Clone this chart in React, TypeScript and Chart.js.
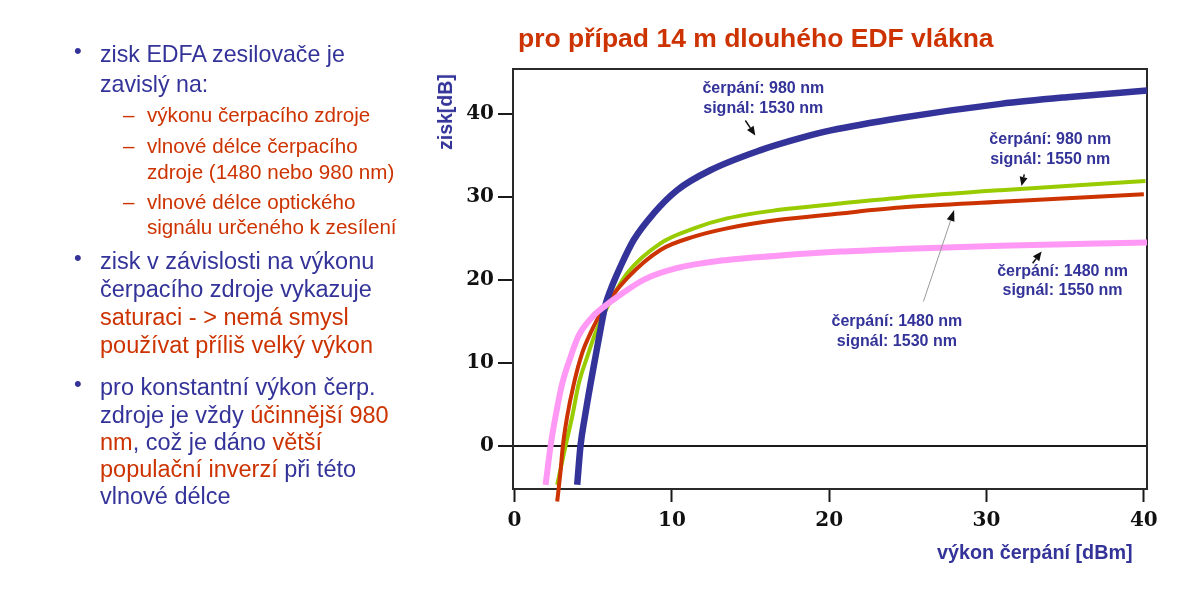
import React, { useEffect, useRef } from "react";
import { Chart, registerables } from "chart.js";

Chart.register(...registerables);

// ---- data ----
const seriesNames = [
  "čerpání 1480 nm, signál 1550 nm",
  "čerpání 980 nm, signál 1530 nm",
  "čerpání 1480 nm, signál 1530 nm",
  "čerpání 980 nm, signál 1550 nm",
];

const p1480s1550X = [1.97, 2.29, 2.6, 3.03, 3.56, 4.08, 4.93, 5.78, 6.5, 8.2, 10.3, 13.5, 16.7, 20.7, 24.5, 30.9, 40.2];
const p1480s1550Y = [-4.7, 0, 3.5, 7.5, 10.7, 13.3, 15.5, 16.9, 17.9, 20.0, 21.4, 22.4, 22.9, 23.4, 23.7, 24.1, 24.5];

const p980s1530X = [3.98, 4.19, 4.47, 4.83, 5.14, 5.46, 5.78, 6.1, 6.73, 7.57, 8.84, 10.33, 12.44, 15.6, 18.2, 20.1, 24.5, 30.9, 35.1, 40.2];
const p980s1530Y = [-4.7, 0, 3.5, 7.5, 10.7, 14.0, 17.0, 18.8, 21.6, 24.8, 28.0, 30.8, 33.2, 35.6, 37.1, 38.0, 39.5, 41.2, 42.0, 42.8];

const p1480s1530X = [2.71, 2.92, 3.07, 3.34, 3.77, 4.3, 4.83, 5.67, 7.16, 9.27, 11.4, 13.5, 16.7, 20.7, 24.5, 30.9, 40.0];
const p1480s1530Y = [-6.7, -3.1, 0, 3.5, 7.5, 11.2, 13.6, 16.6, 20.2, 23.6, 25.2, 26.2, 27.2, 28.0, 28.7, 29.4, 30.3];

const p980s1550X = [2.71, 3.24, 3.66, 4.08, 4.61, 5.14, 5.78, 7.16, 9.27, 11.4, 13.5, 16.7, 20.7, 24.5, 30.9, 40.1];
const p980s1550Y = [-4.7, 0, 3.5, 7.5, 10.7, 13.6, 16.3, 20.8, 24.4, 26.2, 27.4, 28.4, 29.2, 29.9, 30.8, 31.9];

const xTickValues = [0, 10, 20, 30, 40];
const yTickValues = [0, 10, 20, 30, 40];

const noteLines = [
  ["čerpání: 980 nm", "signál: 1530 nm"],
  ["čerpání: 980 nm", "signál: 1550 nm"],
  ["čerpání: 1480 nm", "signál: 1550 nm"],
  ["čerpání: 1480 nm", "signál: 1530 nm"],
];
const noteX = [15.81, 34.05, 34.83, 24.3];
const noteY = [
  [43.08, 40.67],
  [36.94, 34.54],
  [20.94, 18.65],
  [14.96, 12.55],
];

const arrowFromX = [14.67, 32.4, 25.99, 32.93];
const arrowFromY = [39.2, 32.7, 17.4, 22.0];
const arrowToX = [15.3, 32.22, 27.94, 33.5];
const arrowToY = [37.4, 31.3, 28.4, 23.4];

const titleText = "pro případ 14 m dlouhého EDF vlákna";
const yTitle = "zisk[dB]";
const xTitle = "výkon čerpání [dBm]";

// ---- styles ----
const BLUE = "#333399";
const RED = "#cc3300";
const SANS = '"Liberation Sans", Arial, sans-serif';

const pts = (xs: number[], ys: number[]) => xs.map((x, i) => ({ x, y: ys[i] }));

function Txt(props: { x: number; base: number; size: number; bold?: boolean; color?: string; children: any }) {
  const { x, base, size, bold, color, children } = props;
  const lh = Math.round(size * 1.2);
  const top = base - (lh / 2 + 0.3465 * size);
  return (
    <div
      style={{
        position: "absolute",
        left: x,
        top,
        fontSize: size,
        lineHeight: lh + "px",
        fontWeight: bold ? 700 : 400,
        color: color || BLUE,
        whiteSpace: "nowrap",
        fontFamily: SANS,
      }}
    >
      {children}
    </div>
  );
}

const R = (s: string) => <span style={{ color: RED }}>{s}</span>;

export default function App() {
  const ref = useRef<HTMLCanvasElement | null>(null);

  useEffect(() => {
    if (!ref.current) return;

    const framePlugin = {
      id: "frame",
      beforeDatasetsDraw(chart: any) {
        const { ctx, chartArea: a } = chart;
        ctx.save();
        ctx.strokeStyle = "#2a2a2a";
        ctx.lineWidth = 2;
        ctx.strokeRect(a.left, a.top, a.right - a.left, a.bottom - a.top);
        ctx.restore();
      },
    };

    const notesPlugin = {
      id: "notes",
      afterDatasetsDraw(chart: any) {
        const { ctx } = chart;
        const xs = chart.scales.x;
        const ys = chart.scales.y;
        ctx.save();
        arrowFromX.forEach((fx, i) => {
          const x1 = xs.getPixelForValue(fx);
          const y1 = ys.getPixelForValue(arrowFromY[i]);
          const x2 = xs.getPixelForValue(arrowToX[i]);
          const y2 = ys.getPixelForValue(arrowToY[i]);
          const ang = Math.atan2(y2 - y1, x2 - x1);
          const hl = i === 2 ? 11 : 9;
          const hw = 4;
          const bx = x2 - hl * Math.cos(ang);
          const by = y2 - hl * Math.sin(ang);
          ctx.strokeStyle = i === 2 ? "#9a9a9a" : "#111";
          ctx.lineWidth = i === 2 ? 1 : 1.5;
          ctx.beginPath();
          ctx.moveTo(x1, y1);
          ctx.lineTo(bx, by);
          ctx.stroke();
          ctx.fillStyle = "#111";
          ctx.beginPath();
          ctx.moveTo(x2, y2);
          ctx.lineTo(bx + hw * Math.sin(ang), by - hw * Math.cos(ang));
          ctx.lineTo(bx - hw * Math.sin(ang), by + hw * Math.cos(ang));
          ctx.closePath();
          ctx.fill();
        });
        ctx.fillStyle = BLUE;
        ctx.font = `bold 16px ${SANS}`;
        ctx.textAlign = "center";
        ctx.textBaseline = "middle";
        noteLines.forEach((lines, i) => {
          lines.forEach((t, j) => {
            ctx.fillText(t, xs.getPixelForValue(noteX[i]), ys.getPixelForValue(noteY[i][j]));
          });
        });
        ctx.restore();
      },
    };

    const chart = new Chart(ref.current, {
      type: "line",
      data: {
        datasets: [
          { label: seriesNames[0], data: pts(p1480s1550X, p1480s1550Y), borderColor: "#ff99f5", borderWidth: 6, clip: false },
          { label: seriesNames[1], data: pts(p980s1530X, p980s1530Y), borderColor: "#333399", borderWidth: 6.5, clip: false },
          { label: seriesNames[2], data: pts(p1480s1530X, p1480s1530Y), borderColor: "#cc3300", borderWidth: 4, clip: false },
          { label: seriesNames[3], data: pts(p980s1550X, p980s1550Y), borderColor: "#99cc00", borderWidth: 4, clip: false },
        ] as any,
      },
      options: {
        animation: false,
        responsive: false,
        maintainAspectRatio: false,
        events: [],
        layout: { padding: { left: 0, top: 69, right: 53, bottom: 0 } },
        elements: {
          point: { radius: 0 },
          line: { cubicInterpolationMode: "monotone", borderCapStyle: "butt", borderJoinStyle: "round", fill: false },
        },
        plugins: { legend: { display: false }, tooltip: { enabled: false }, title: { display: false } },
        scales: {
          x: {
            type: "linear",
            min: -0.1,
            max: 40.2,
            afterBuildTicks: (s: any) => {
              s.ticks = xTickValues.map((v) => ({ value: v }));
            },
            afterFit: (s: any) => {
              s.height = 122;
            },
            border: { display: false },
            grid: { drawOnChartArea: false, drawTicks: true, tickLength: 13, tickColor: "#1a1a1a", tickWidth: 2 },
            ticks: {
              color: "#111",
              padding: 7,
              maxRotation: 0,
              autoSkip: false,
              font: { family: '"DejaVu Serif", serif', weight: "bold", size: 20 },
            },
          },
          y: {
            type: "linear",
            min: -5.2,
            max: 45.4,
            afterBuildTicks: (s: any) => {
              s.ticks = yTickValues.map((v) => ({ value: v }));
            },
            afterFit: (s: any) => {
              s.width = 513;
            },
            border: { display: false },
            grid: {
              drawOnChartArea: true,
              drawTicks: true,
              tickLength: 15,
              color: (c: any) => (c.tick && c.tick.value === 0 ? "#1a1a1a" : "rgba(0,0,0,0)"),
              lineWidth: 2,
              tickColor: "#1a1a1a",
              tickWidth: 2,
            },
            ticks: {
              color: "#111",
              padding: 4,
              autoSkip: false,
              font: { family: '"DejaVu Serif", serif', weight: "bold", size: 20 },
            },
          },
        },
      } as any,
      plugins: [framePlugin, notesPlugin],
    });
    return () => chart.destroy();
  }, []);

  return (
    <div style={{ position: "absolute", left: 0, top: 0, width: 1200, height: 611, background: "#fff", overflow: "hidden" }}>
      <canvas ref={ref} width={1200} height={611} style={{ position: "absolute", left: 0, top: 0, width: 1200, height: 611 }} />

      <Txt x={518} base={46.7} size={26.5} bold color={RED}>{titleText}</Txt>

      <div
        style={{
          position: "absolute",
          left: 445,
          top: 111.7,
          transform: "translate(-50%, -50%) rotate(-90deg)",
          fontFamily: SANS,
          fontWeight: 700,
          fontSize: 19.5,
          lineHeight: "20px",
          color: BLUE,
          whiteSpace: "nowrap",
        }}
      >
        {yTitle}
      </div>
      <Txt x={937} base={558.5} size={19.8} bold>{xTitle}</Txt>

      {/* left bullet text */}
      <Txt x={74} base={59} size={22}>•</Txt>
      <Txt x={100} base={62} size={23.2}>zisk EDFA zesilovače je</Txt>
      <Txt x={100} base={92} size={23.2}>zavislý na:</Txt>

      <Txt x={123} base={122} size={20.6} color={RED}>–</Txt>
      <Txt x={147} base={122} size={20.6} color={RED}>výkonu čerpacího zdroje</Txt>
      <Txt x={123} base={153} size={20.6} color={RED}>–</Txt>
      <Txt x={147} base={153} size={20.6} color={RED}>vlnové délce čerpacího</Txt>
      <Txt x={147} base={178.5} size={20.6} color={RED}>zdroje (1480 nebo 980 nm)</Txt>
      <Txt x={123} base={208.5} size={20.6} color={RED}>–</Txt>
      <Txt x={147} base={208.5} size={20.6} color={RED}>vlnové délce optického</Txt>
      <Txt x={147} base={233.5} size={20.6} color={RED}>signálu určeného k zesílení</Txt>

      <Txt x={74} base={266} size={22}>•</Txt>
      <Txt x={100} base={269.3} size={23.5}>zisk v závislosti na výkonu</Txt>
      <Txt x={100} base={297.3} size={23.5}>čerpacího zdroje vykazuje</Txt>
      <Txt x={100} base={325} size={23.5} color={RED}>saturaci - &gt; nemá smysl</Txt>
      <Txt x={100} base={353.3} size={23.5} color={RED}>používat příliš velký výkon</Txt>

      <Txt x={74} base={392} size={22}>•</Txt>
      <Txt x={100} base={395} size={23.5}>pro konstantní výkon čerp.</Txt>
      <Txt x={100} base={422.7} size={23.5}>zdroje je vždy {R("účinnější 980")}</Txt>
      <Txt x={100} base={450} size={23.5}>{R("nm")}, což je dáno {R("větší")}</Txt>
      <Txt x={100} base={477} size={23.5}>{R("populační inverzí")} při této</Txt>
      <Txt x={100} base={504} size={23.5}>vlnové délce</Txt>
    </div>
  );
}
